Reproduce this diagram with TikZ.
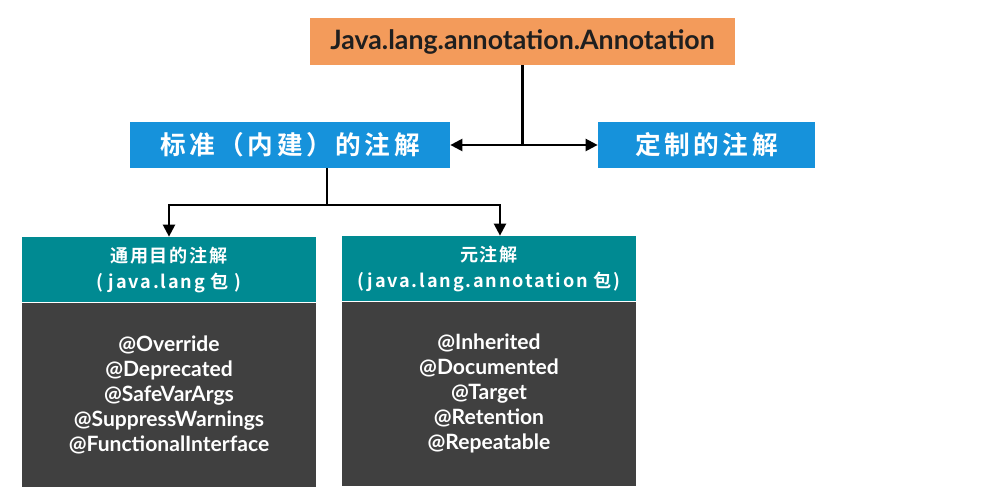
\documentclass[tikz,border=0pt]{standalone}
\usepackage{fontspec}
\setmainfont{Lato}
\newfontfamily\cjk{Noto Sans CJK SC}[BoldFont={Noto Sans CJK SC Bold}, LetterSpace=14]
\newfontfamily\cjkhead{Noto Sans CJK SC}[BoldFont={Noto Sans CJK SC Bold}, LetterSpace=10]
\usetikzlibrary{arrows.meta,positioning,calc}
\definecolor{anorange}{HTML}{F39B5B}
\definecolor{anblue}{HTML}{1692DB}
\definecolor{anteal}{HTML}{008A92}
\definecolor{anslate}{HTML}{404040}
\tikzset{
  rootBox/.style={fill=anorange, minimum width=8.5cm, minimum height=0.94cm, inner sep=0pt, text=black!88, font=\bfseries\fontsize{15.2}{18}\selectfont},
  kindBox/.style={fill=anblue, minimum height=0.92cm, inner sep=0pt, text=white, font=\cjk\bfseries\fontsize{14.6}{17}\selectfont},
  headBox/.style={fill=anteal, minimum width=5.88cm, minimum height=1.3cm, inner sep=0pt, align=center, text=white, font=\cjkhead\bfseries\fontsize{10.3}{14.8}\selectfont},
  listBox/.style={fill=anslate, minimum width=5.88cm, minimum height=3.68cm, inner sep=0pt, align=center, text=white, font=\bfseries\fontsize{12}{14.2}\selectfont},
  linkArrow/.style={-{Triangle[length=0.24cm,width=0.24cm]}, line width=1.3pt, draw=black},
  linkLine/.style={line width=1.3pt, draw=black}
}
\begin{document}
\begin{tikzpicture}
  \useasboundingbox (0,0) rectangle (20,-10);
  \node[rootBox] (root) at (10.45,-0.83) {Java.lang.annotation.Annotation};
  \node[kindBox, minimum width=6.4cm] (std) at (5.8,-2.9) {标准（内建）的注解};
  \node[kindBox, minimum width=4.34cm] (custom) at (14.13,-2.9) {定制的注解};

  \node[headBox] (general) at (3.38,-5.39) {通用目的注解\\( java.lang 包 )};
  \node[listBox, below=0pt of general] (generalList) {@Override\\@Deprecated\\@SafeVarArgs\\@SuppressWarnings\\@FunctionalInterface};
  \node[headBox] (meta) at (9.78,-5.37) {元注解\\(java.lang.annotation 包)};
  \node[listBox, below=0pt of meta] (metaList) {@Inherited\\@Documented\\@Target\\@Retention\\@Repeatable};

  % root to the two kinds
  \draw[linkLine] (root.south) -- (root.south |- std.east) coordinate (hub);
  \draw[linkArrow] (hub) -- (std.east);
  \draw[linkArrow] (hub) -- (custom.west);

  % standard annotations split
  \draw[linkLine] ([xshift=0.74cm]std.south) -- ++(0,-0.74) coordinate (split);
  \draw[linkArrow] (split) -| (general.north);
  \draw[linkArrow] (split) -| ([xshift=0.22cm]meta.north);
\end{tikzpicture}
\end{document}
